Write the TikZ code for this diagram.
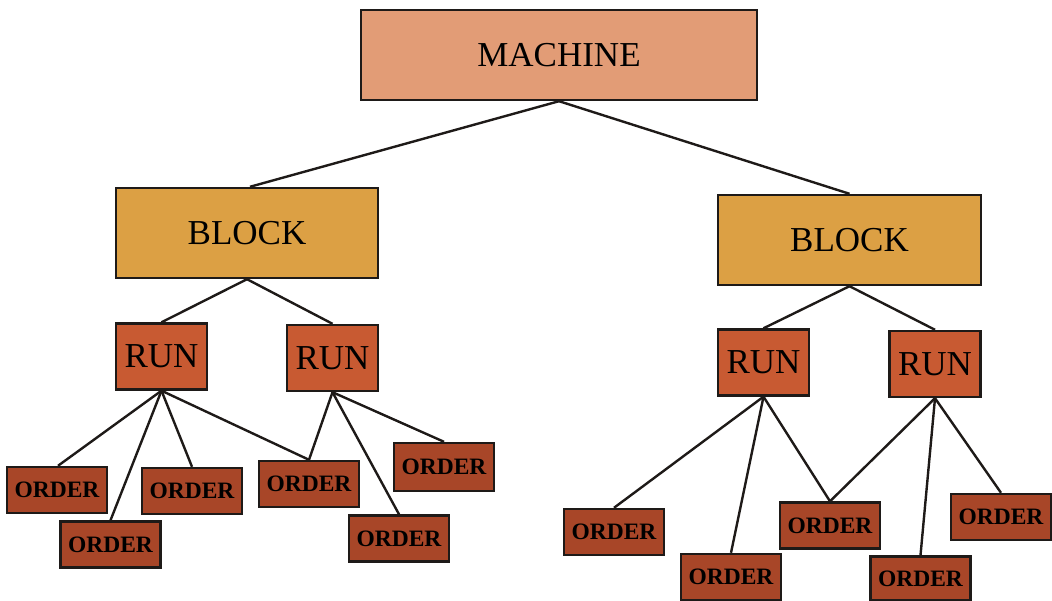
\documentclass[tikz,border=0pt]{standalone}
\usepackage{fontspec}
\setmainfont{Liberation Serif}
\definecolor{machinefill}{HTML}{E29C76}
\definecolor{blockfill}{HTML}{DCA044}
\definecolor{runfill}{HTML}{C85A32}
\definecolor{orderfill}{HTML}{A84628}
\definecolor{edgeline}{HTML}{1E1A18}
\tikzset{
  box/.style={draw=edgeline, line width=2.4pt, inner sep=0pt, align=center},
  machinebox/.style={box, fill=machinefill, minimum width=396pt, minimum height=90pt, font=\fontsize{35}{40}\selectfont},
  blockbox/.style={box, fill=blockfill, minimum width=262pt, minimum height=90pt, font=\fontsize{35}{40}\selectfont},
  runbox/.style={box, fill=runfill, minimum width=91pt, minimum height=66pt, font=\fontsize{35}{40}\selectfont},
  orderbox/.style={box, fill=orderfill, minimum width=100pt, minimum height=46pt, font=\fontsize{23.5}{28}\selectfont\bfseries},
  link/.style={draw=edgeline, line width=2.4pt}
}
\begin{document}
\begin{tikzpicture}[x=1pt,y=-1pt]
\useasboundingbox (0,0) rectangle (1052,601);

% root and the two blocks
\node[machinebox] (machine) at (559,55) {MACHINE};
\node[blockbox] (blockL) at (247,233) {BLOCK};
\node[blockbox, minimum width=263pt] (blockR) at (849.5,240) {BLOCK};

% runs
\node[runbox] (runL1) at (161.5,356.5) {RUN};
\node[runbox] (runL2) at (332.5,358) {RUN};
\node[runbox] (runR1) at (763.5,362.5) {RUN};
\node[runbox] (runR2) at (935,364) {RUN};

% orders, left block
\node[orderbox] (oLa) at (57,490) {ORDER};
\node[orderbox] (oLb) at (110.5,544.5) {ORDER};
\node[orderbox] (oLc) at (192,491) {ORDER};
\node[orderbox] (oLd) at (309,484) {ORDER};
\node[orderbox] (oLe) at (399,538.5) {ORDER};
\node[orderbox, minimum height=48pt] (oLf) at (444,467) {ORDER};

% orders, right block
\node[orderbox] (oRa) at (614,532) {ORDER};
\node[orderbox] (oRb) at (731,577) {ORDER};
\node[orderbox] (oRc) at (830,525.5) {ORDER};
\node[orderbox, minimum height=44pt] (oRd) at (920.5,578.5) {ORDER};
\node[orderbox] (oRe) at (1001,517) {ORDER};

% connectors
\draw[link] (machine.south) -- ([xshift=3pt]blockL.north);
\draw[link] (machine.south) -- (blockR.north);
\draw[link] (blockL.south) -- (runL1.north);
\draw[link] (blockL.south) -- (runL2.north);
\draw[link] (blockR.south) -- (runR1.north);
\draw[link] (blockR.south) -- (runR2.north);
\draw[link] (runL1.south) -- ([xshift=1pt]oLa.north);
\draw[link] (runL1.south) -- (oLb.north);
\draw[link] (runL1.south) -- (oLc.north);
\draw[link] (runL1.south) -- (oLd.north);
\draw[link] (runL2.south) -- (oLd.north);
\draw[link] (runL2.south) -- (oLe.north);
\draw[link] (runL2.south) -- (oLf.north);
\draw[link] (runR1.south) -- (oRa.north);
\draw[link] (runR1.south) -- (oRb.north);
\draw[link] (runR1.south) -- (oRc.north);
\draw[link] (runR2.south) -- (oRc.north);
\draw[link] (runR2.south) -- (oRd.north);
\draw[link] (runR2.south) -- (oRe.north);
\end{tikzpicture}
\end{document}
